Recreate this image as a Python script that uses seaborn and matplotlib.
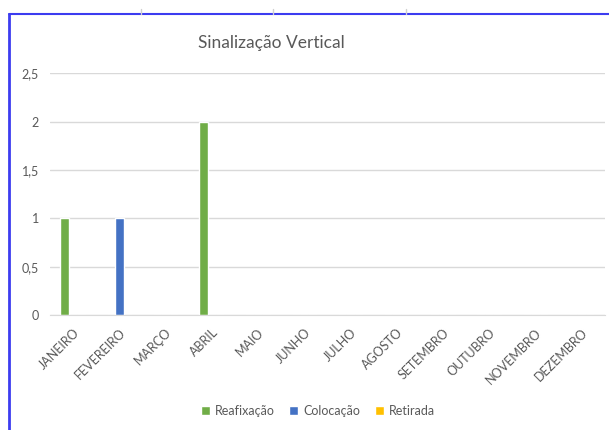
import matplotlib
matplotlib.use('Agg')
import matplotlib.pyplot as plt
import seaborn as sns
import pandas as pd
from matplotlib.lines import Line2D

meses = ['JANEIRO', 'FEVEREIRO', 'MARÇO', 'ABRIL', 'MAIO', 'JUNHO', 'JULHO',
         'AGOSTO', 'SETEMBRO', 'OUTUBRO', 'NOVEMBRO', 'DEZEMBRO']
reafixacao = [1, 0, 0, 2, 0, 0, 0, 0, 0, 0, 0, 0]
colocacao = [0, 1, 0, 0, 0, 0, 0, 0, 0, 0, 0, 0]
retirada = [0, 0, 0, 0, 0, 0, 0, 0, 0, 0, 0, 0]
series = ['Reafixação', 'Colocação', 'Retirada']
cores = ['#70ad47', '#4472c4', '#ffc000']
yticks = [0, 0.5, 1, 1.5, 2, 2.5]
ylabels = ['0', '0,5', '1', '1,5', '2', '2,5']

df = pd.DataFrame({
    'mes': meses * 3,
    'valor': reafixacao + colocacao + retirada,
    'tipo': [series[0]] * 12 + [series[1]] * 12 + [series[2]] * 12,
})

sns.set_style('white')
plt.rcParams['font.family'] = ['Lato', 'DejaVu Sans']
txt = '#595959'

fig = plt.figure(figsize=(6.09, 4.30), dpi=100)
ax = fig.add_axes([0.082, 0.267, 0.911, 0.563])
sns.barplot(data=df, x='mes', y='valor', hue='tipo', palette=cores,
            saturation=1, width=0.55, ax=ax, legend=True)

ax.set_ylim(0, 2.5)
ax.set_yticks(yticks)
ax.set_yticklabels(ylabels, color=txt, fontsize=9)
ax.yaxis.grid(True, color='#d9d9d9', linewidth=1)
ax.set_axisbelow(True)
ax.set_xlabel('')
ax.set_ylabel('')
ax.tick_params(axis='both', length=0, pad=8)
plt.setp(ax.get_xticklabels(), rotation=45, ha='right', rotation_mode='anchor',
         color=txt, fontsize=9)
for s in ['top', 'right', 'left']:
    ax.spines[s].set_visible(False)
ax.spines['bottom'].set_color('#d9d9d9')

fig.text(0.445, 0.90, 'Sinalização Vertical', ha='center', va='center',
         fontsize=12.5, color=txt)

h, l = ax.get_legend_handles_labels()
ax.legend_.remove()
fig.legend(h, l, loc='lower center', bbox_to_anchor=(0.522, 0.005), ncol=3,
           frameon=False, fontsize=9, handlelength=0.7, handleheight=0.7,
           handletextpad=0.4, columnspacing=1.2, labelcolor=txt)

# spreadsheet border
fig.add_artist(Line2D([0.015, 0.015], [0, 0.967], color='#3c3cf0', lw=2))
fig.add_artist(Line2D([0.015, 1], [0.967, 0.967], color='#3c3cf0', lw=1.5))
for x in [0.231, 0.448, 0.667]:
    fig.add_artist(Line2D([x, x], [0.967, 0.978], color='#d0d0d0', lw=1))

fig.savefig('out.png', dpi=100, facecolor='white')
